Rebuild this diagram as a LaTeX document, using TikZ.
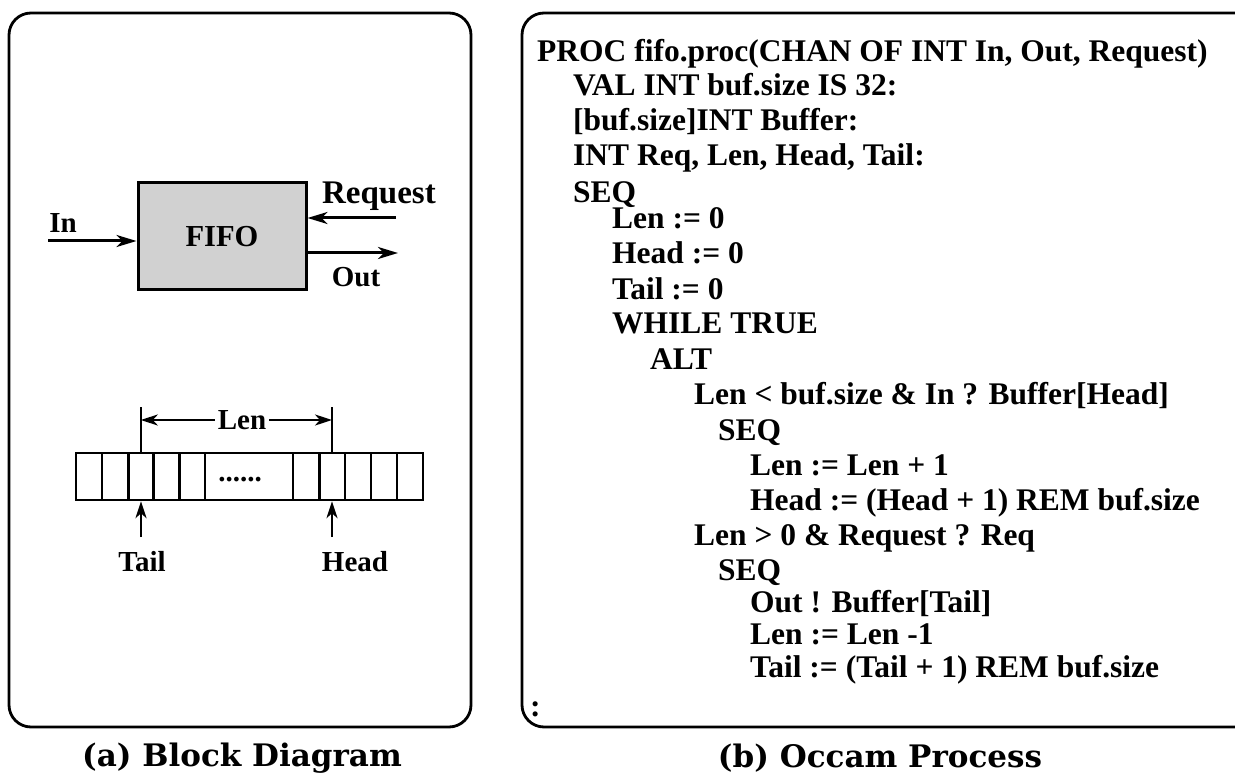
\documentclass[tikz,border=0pt]{standalone}
\usepackage{fontspec}
\setmainfont{Liberation Serif}
\newfontfamily\capfont{DejaVu Serif}
\usetikzlibrary{arrows.meta}
\begin{document}
\begin{tikzpicture}[x=1pt,y=-1pt,
  panel/.style={line width=2.8pt, rounded corners=22pt},
  bigtip/.style={-{Stealth[length=20pt,width=12pt,inset=6pt]}},
  smalltip/.style={-{Stealth[length=17pt,width=11pt,inset=5pt]}},
  arr/.style={line width=3pt, bigtip},
  bufline/.style={line width=2.4pt},
  lbl/.style={inner sep=0pt, font=\fontsize{29}{30}\selectfont\bfseries},
  code/.style={anchor=base west, inner sep=0pt, font=\fontsize{31.5}{32}\selectfont\bfseries},
  captxt/.style={inner sep=0pt, font=\fontsize{31}{32}\selectfont\bfseries\capfont},
  fifobox/.style={draw, line width=3pt, fill=black!18, minimum width=168pt, minimum height=107pt, inner sep=0pt, font=\fontsize{30.5}{31}\selectfont\bfseries}
]
\useasboundingbox (0,0) rectangle (1235,778);
\clip (0,0) rectangle (1235,778);
% panels
\draw[panel] (9,13) rectangle (471,727);
\draw[panel] (522,13) rectangle (1260,727);

% block diagram
\node[fifobox] (fifo) at (222,236.5) {FIFO};
\coordinate (inS) at (48,241);
\coordinate (reqS) at (396,218);
\coordinate (outE) at (398,253);
\draw[arr] (inS) -- (fifo.west |- inS);
\draw[arr] (reqS) -- (fifo.east |- reqS);
\draw[arr] (fifo.east |- outE) -- (outE);
\node[lbl] (inL) at (63,223) {In};
\node[lbl, font=\fontsize{33}{34}\selectfont\bfseries] (reqL) at (379,196) {Request};
\node[lbl] (outL) at (356,277) {Out};

% buffer
\node[draw, bufline, minimum width=347pt, minimum height=47pt, inner sep=0pt] (buf) at (249.2,476.5) {};
\foreach \xx in {101.7,128.3,153.3,179.3,205,292.7,319.3,345,371,396.7}
  \draw[bufline] (\xx,453) -- (\xx,500);
\node[lbl, anchor=base] (dots) at (240,481) {......};
\coordinate (lenL) at (140.8,407);
\coordinate (lenR) at (332,407);
\draw[bufline] (lenL) -- (lenL |- buf.north);
\draw[bufline] (lenR) -- (lenR |- buf.north);
\node[lbl, inner xsep=3pt] (len) at (242,420) {Len};
\draw[bufline, smalltip] (len.west) -- (lenL |- len.west);
\draw[bufline, smalltip] (len.east) -- (lenR |- len.east);
\coordinate (tailS) at (141,537);
\coordinate (headS) at (332,537);
\draw[bufline, smalltip] (tailS) -- (tailS |- buf.south);
\draw[bufline, smalltip] (headS) -- (headS |- buf.south);
\node[lbl] (tailL) at (142,562) {Tail};
\node[lbl] (headL) at (355,562) {Head};

% code
\node[code] (c1) at (537,62) {PROC fifo.proc(CHAN OF INT In, Out, Request)};
\node[code] (c2) at (573,96) {VAL INT buf.size IS 32:};
\node[code] (c3) at (573,131) {[buf.size]INT Buffer:};
\node[code] (c4) at (573,166) {INT Req, Len, Head, Tail:};
\node[code] (c5) at (573,203) {SEQ};
\node[code] (c6) at (612,229) {Len := 0};
\node[code] (c7) at (612,264) {Head := 0};
\node[code] (c8) at (612,299) {Tail := 0};
\node[code] (c9) at (612,334) {WHILE TRUE};
\node[code] (c10) at (650,369) {ALT};
\node[code] (c11) at (694,404) {Len < buf.size \& In ? Buffer[Head]};
\node[code] (c12) at (718,440) {SEQ};
\node[code] (c13) at (750,475) {Len := Len + 1};
\node[code] (c14) at (750,510) {Head := (Head + 1) REM buf.size};
\node[code] (c15) at (694,545) {Len > 0 \& Request ? Req};
\node[code] (c16) at (718,580) {SEQ};
\node[code] (c17) at (750,612) {Out ! Buffer[Tail]};
\node[code] (c18) at (750,644) {Len := Len -1};
\node[code] (c19) at (750,677) {Tail := (Tail + 1) REM buf.size};
\node[code] (c20) at (530,716) {:};

% captions
\node[captxt] (capa) at (242,758) {(a) Block Diagram};
\node[captxt] (capb) at (880,758) {(b) Occam Process};
\end{tikzpicture}
\end{document}
